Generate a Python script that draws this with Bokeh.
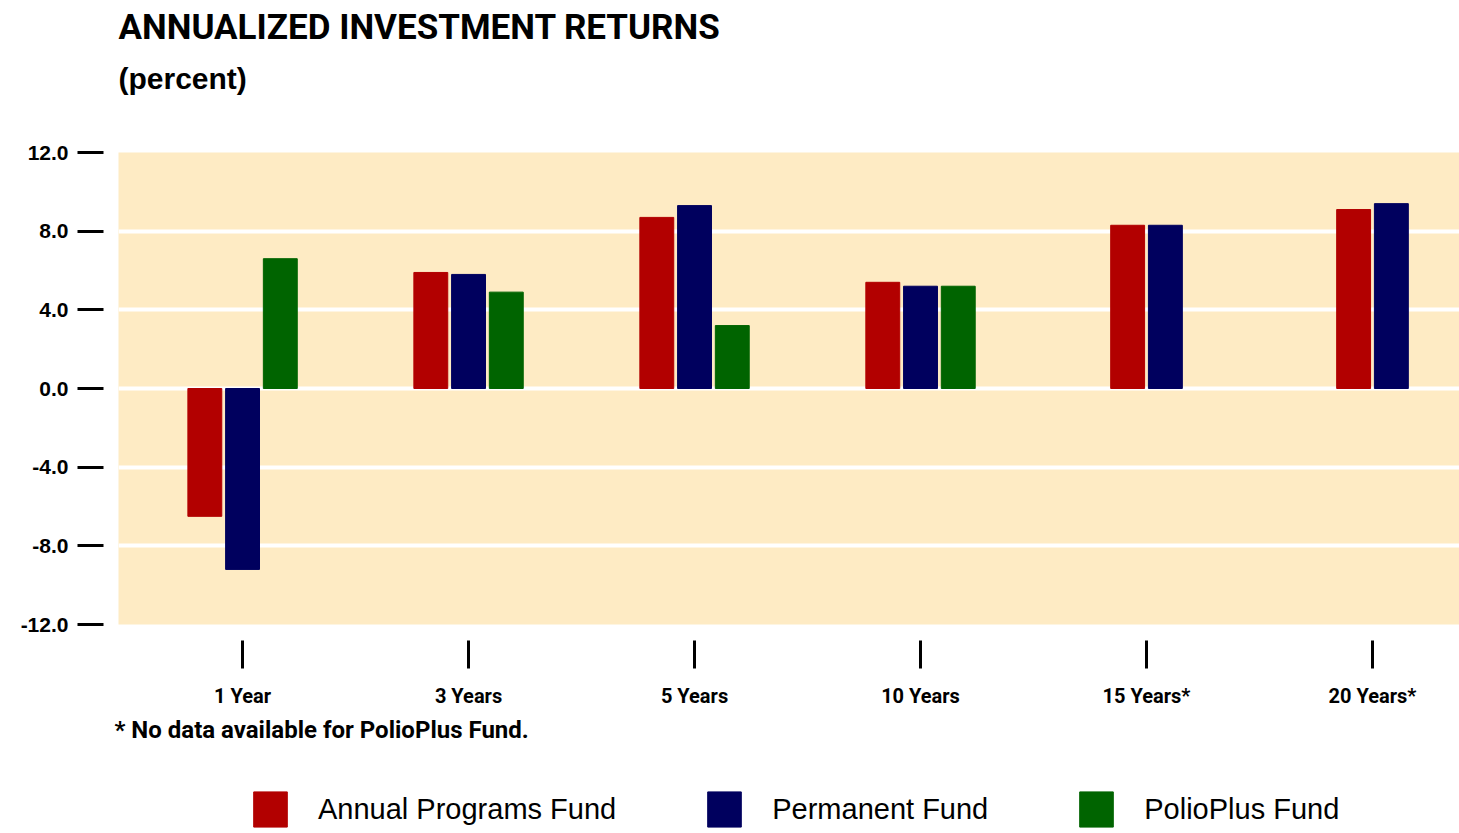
import numpy as np
from bokeh.plotting import figure
from bokeh.layouts import column
from bokeh.models import (ColumnDataSource, FixedTicker, Range1d, Title, Legend,
                          LegendItem, NumeralTickFormatter)
from bokeh.embed import file_html
from bokeh.resources import INLINE

# ---------------- data ----------------
periods = ["1 Year", "3 Years", "5 Years", "10 Years", "15 Years*", "20 Years*"]
annual_programs = [-6.5, 5.9, 8.7, 5.4, 8.3, 9.1]
permanent = [-9.2, 5.8, 9.3, 5.2, 8.3, 9.4]
polioplus = [6.6, 4.9, 3.2, 5.2, None, None]
fund_names = ["Annual Programs Fund", "Permanent Fund", "PolioPlus Fund"]
fund_colors = ["#B20000", "#00005E", "#006400"]
y_ticks = [-12, -8, -4, 0, 4, 8, 12]
title_text = "ANNUALIZED INVESTMENT RETURNS"
subtitle_text = "(percent)"
footnote_text = "*  No data available for PolioPlus Fund."

series = [annual_programs, permanent, polioplus]

# ---------------- main figure ----------------
W = 1459
H1, H2 = 775, 58
p = figure(width=W, height=H1, output_backend="svg", toolbar_location=None,
           x_range=Range1d(-0.549, 5.385), y_range=Range1d(-12, 12),
           min_border_left=118, min_border_right=0, min_border_top=152,
           min_border_bottom=H1 - 624)
p.outline_line_color = None
p.background_fill_color = "#FEEBC4"
p.border_fill_color = "white"

bar_w = 0.15
step = 0.167
n_groups = len(periods)
sources = []
for k, (vals, col) in enumerate(zip(series, fund_colors)):
    xs, tops = [], []
    for g in range(n_groups):
        present = [s[g] is not None for s in series]
        idxs = [i for i, ok in enumerate(present) if ok]
        if vals[g] is None:
            continue
        pos = idxs.index(k)
        off = (pos - (len(idxs) - 1) / 2) * step
        xs.append(g + off)
        tops.append(vals[g])
    src = ColumnDataSource(dict(x=xs, top=tops))
    sources.append(src)
    p.vbar(x="x", top="top", bottom=0, width=bar_w, source=src,
           fill_color=col, line_color=col, line_width=1)

# grid
p.xgrid.grid_line_color = None
p.ygrid.ticker = FixedTicker(ticks=y_ticks)
p.ygrid.grid_line_color = "white"
p.ygrid.grid_line_width = 4

# y axis
yax = p.yaxis[0]
yax.ticker = FixedTicker(ticks=y_ticks)
yax.formatter = NumeralTickFormatter(format="0.0")
yax.axis_line_color = None
yax.major_tick_out = 41
yax.major_tick_in = -15
yax.major_tick_line_width = 3
yax.major_tick_line_color = "black"
yax.minor_tick_line_color = None
yax.major_label_standoff = 9
yax.major_label_text_font = "Liberation Sans"
yax.major_label_text_font_style = "bold"
yax.major_label_text_font_size = "21px"
yax.major_label_text_color = "black"

# x axis
xax = p.xaxis[0]
xax.ticker = FixedTicker(ticks=list(range(n_groups)))
xax.major_label_overrides = {i: lab for i, lab in enumerate(periods)}
xax.axis_line_color = None
xax.major_tick_out = 44
xax.major_tick_in = -16
xax.major_tick_line_width = 3
xax.major_tick_line_color = "black"
xax.minor_tick_line_color = None
xax.major_label_standoff = 15
xax.major_label_text_font = "Roboto"
xax.major_label_text_font_style = "bold"
xax.major_label_text_font_size = "20px"
xax.major_label_text_color = "black"

def spacer(gap):
    return Title(text="\u00a0", text_font_size="1px", standoff=gap)

# titles (nearest the frame first)
p.add_layout(spacer(45), "above")
p.add_layout(Title(text=subtitle_text, align="left", text_font="Liberation Sans",
                   text_font_style="bold", text_font_size="30px", text_color="black",
                   standoff=20), "above")
p.add_layout(Title(text=title_text, align="left", text_font="Roboto",
                   text_font_style="bold", text_font_size="35px", text_color="black",
                   standoff=4), "above")

# footnote
p.add_layout(Title(text=footnote_text, align="left", text_font="Roboto",
                   text_font_style="bold", text_font_size="24px", text_color="black",
                   standoff=6, offset=-4), "below")

# ---------------- legend strip ----------------
# the fund bars are re-drawn here outside the visible range, only to key the legend
q = figure(width=W, height=H2, output_backend="svg", toolbar_location=None,
           x_range=Range1d(100, 101), y_range=Range1d(100, 101),
           x_axis_location=None, y_axis_location=None,
           min_border_left=0, min_border_right=0, min_border_top=0, min_border_bottom=0)
q.outline_line_color = None
q.xgrid.grid_line_color = None
q.ygrid.grid_line_color = None
q.background_fill_color = "white"
q.border_fill_color = "white"

swatches = [q.vbar(x="x", top="top", bottom=0, width=bar_w, source=src,
                   fill_color=c, line_color=c)
            for src, c in zip(sources, fund_colors)]
legend = Legend(items=[LegendItem(label=n, renderers=[r]) for n, r in zip(fund_names, swatches)],
                orientation="horizontal", location=(131, 2),
                glyph_width=42, glyph_height=44, label_standoff=27, spacing=87,
                padding=0, margin=0, border_line_color=None, background_fill_alpha=0,
                label_text_font="Liberation Sans", label_text_font_size="29px",
                label_text_color="black", label_height=44)
q.add_layout(legend, "center")

layout = column(p, q, spacing=0)
open("out.html", "w").write(file_html(layout, INLINE))
